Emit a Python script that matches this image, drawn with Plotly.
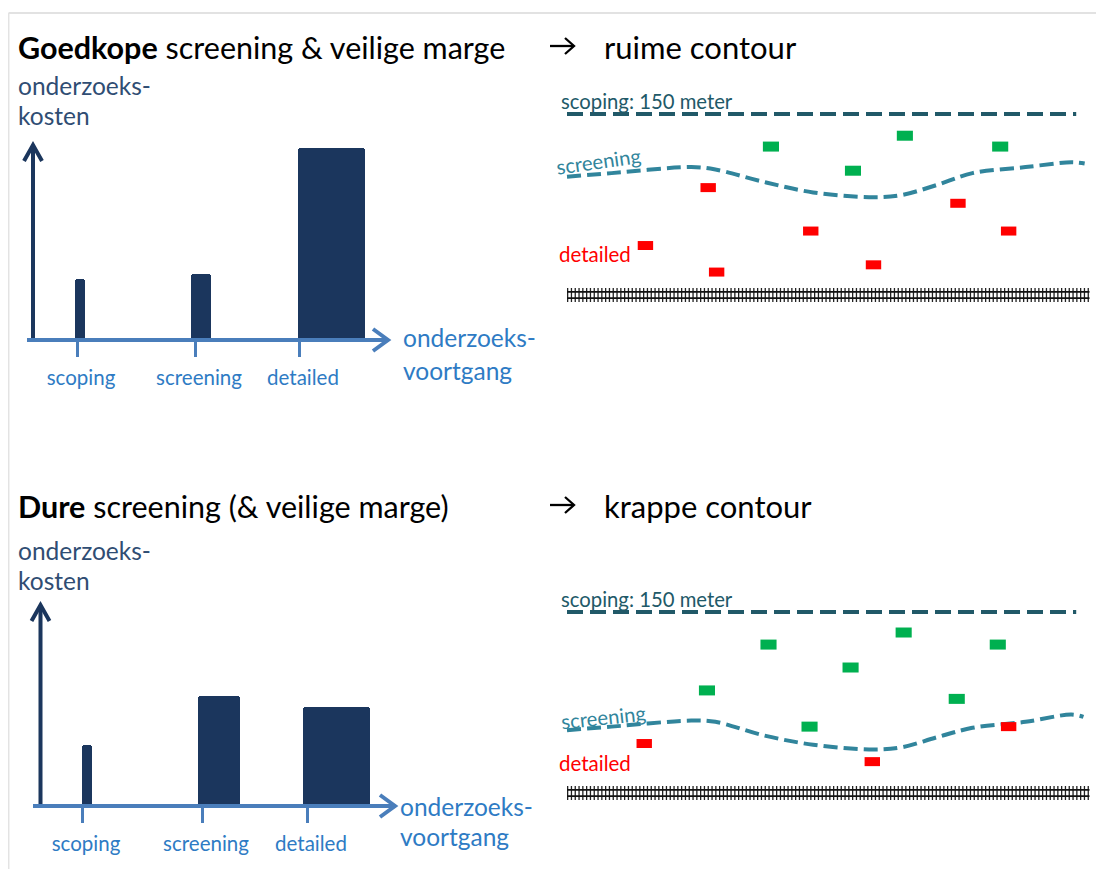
import plotly.graph_objects as go

# ---------------- data ----------------
stages = ["scoping", "screening", "detailed"]
cost_cheap = [61, 66, 192]        # Goedkope screening & veilige marge
cost_expensive = [61, 110, 99]    # Dure screening (& veilige marge)

# sample points (x along track in m, y distance from track in m)
top_green_x = [169, 280, 359, 237]
top_green_y = [123, 132, 123, 103]
top_red_x = [117, 324, 202, 366, 65, 124, 254]
top_red_y = [89, 76, 53, 53, 41, 19, 25]

bot_green_x = [167, 279, 357, 235, 116, 323, 201]
bot_green_y = [123, 133, 123, 104, 85, 78, 55]
bot_red_x = [64, 253, 366]
bot_red_y = [41, 26, 55]

# screening contour (x along track, distance in m)
top_screen_x = [0, 37, 103, 123, 162, 204, 255, 278, 306, 336, 380, 418, 429]
top_screen_y = [98, 101, 106, 104, 94, 85, 81, 83, 91, 101, 106, 110, 109]
bot_screen_x = [0, 37, 103, 123, 162, 204, 255, 278, 306, 336, 380, 418, 428]
bot_screen_y = [52, 55, 60, 59, 48, 40, 36, 38, 46, 54, 59, 65, 63]

scoping_distance = 150   # meter
track_length = 433
scoping_line_end = 422

# ---------------- styles ----------------
OFF = 8                      # page body margin
W, H = 1104 - OFF, 869 - OFF
NAVY = "#1b365d"
AXBLUE = "#4a7ebb"
LBLUE = "#2e7bc4"
YLAB = "#2f4d73"
TEAL_D = "#215968"
TEAL = "#31859c"
GREEN = "#00b050"
RED = "#ff0000"
FONT = "Lato, sans-serif"

def pxx(p):
    return (p - OFF) / W

def pxy(p):
    return 1 - (p - OFF) / H

fig = go.Figure()
shapes = []
annotations = []

bar_panels = [
    dict(ax="", box_y=(130, 400), base_px=340, vals=cost_cheap,
         ticks=[67, 185, 289], offs=[-2, -4, -1], widths=[10, 20, 67],
         yx=23, ytop=195, x0=17, x1=378),
    dict(ax="2", box_y=(585, 840), base_px=806, vals=cost_expensive,
         ticks=[72, 192, 297], offs=[0, -4, -4], widths=[10, 42, 67],
         yx=30.5, ytop=201, x0=23, x1=385),
]
BOX_X = (10, 420)

for p in bar_panels:
    xa = "x" + p["ax"]
    ya = "y" + p["ax"]
    fig.add_trace(go.Bar(
        x=p["ticks"], y=p["vals"], width=p["widths"], offset=p["offs"],
        marker=dict(color=NAVY, line=dict(width=0), cornerradius=3),
        xaxis=xa, yaxis=ya, showlegend=False, hoverinfo="skip"))
    shapes.append(dict(type="line", xref=xa, yref=ya, x0=p["yx"], x1=p["yx"],
                       y0=-2, y1=p["ytop"] - 1, line=dict(color=NAVY, width=4), layer="above"))
    shapes.append(dict(type="path", xref=xa, yref=ya,
                       path=f"M{p['yx']-9},{p['ytop']-16} L{p['yx']},{p['ytop']} L{p['yx']+9},{p['ytop']-16}",
                       line=dict(color=NAVY, width=4), layer="above"))
    shapes.append(dict(type="line", xref=xa, yref=ya, x0=p["x0"], x1=p["x1"] - 1,
                       y0=0, y1=0, line=dict(color=AXBLUE, width=4), layer="above"))
    shapes.append(dict(type="path", xref=xa, yref=ya,
                       path=f"M{p['x1']-15},11 L{p['x1']},0 L{p['x1']-15},-11",
                       line=dict(color=AXBLUE, width=4), layer="above"))
    b0, b1 = p["box_y"]
    fig.update_layout(**{
        "xaxis" + p["ax"]: dict(domain=[pxx(BOX_X[0]), pxx(BOX_X[1])], range=[0, BOX_X[1] - BOX_X[0]],
                                anchor="free", position=pxy(p["base_px"] + 1),
                                tickvals=p["ticks"], ticktext=stages, ticks="outside",
                                ticklen=15, tickwidth=3, tickcolor=AXBLUE,
                                tickfont=dict(family=FONT, size=20.5, color=LBLUE),
                                ticklabelstandoff=3, ticklabelshift=4,
                                showgrid=False, zeroline=False, showline=False, fixedrange=True),
        "yaxis" + p["ax"]: dict(domain=[pxy(b1), pxy(b0)],
                                range=[p["base_px"] - b1, p["base_px"] - b0],
                                anchor=xa, visible=False, fixedrange=True),
    })

# diagram panels
PX_PER_M = 181 / 150
DIAG_BOX_X = (545, 1100)
ORIGIN_X = 567
diag_panels = [
    dict(ax="3", box_y=(85, 320), track_px=295, gx=top_green_x, gy=top_green_y,
         rx=top_red_x, ry=top_red_y, sx=top_screen_x, sy=top_screen_y,
         lab=(598, 161, -8), det_px=254),
    dict(ax="4", box_y=(583, 818), track_px=793, gx=bot_green_x, gy=bot_green_y,
         rx=bot_red_x, ry=bot_red_y, sx=bot_screen_x, sy=bot_screen_y,
         lab=(603, 717, -6), det_px=763),
]
for d in diag_panels:
    xa = "x" + d["ax"]
    ya = "y" + d["ax"]
    b0, b1 = d["box_y"]
    tp = d["track_px"]
    fig.update_layout(**{
        "xaxis" + d["ax"]: dict(domain=[pxx(DIAG_BOX_X[0]), pxx(DIAG_BOX_X[1])],
                                range=[(DIAG_BOX_X[0] - ORIGIN_X) / PX_PER_M, (DIAG_BOX_X[1] - ORIGIN_X) / PX_PER_M],
                                anchor=ya, visible=False, fixedrange=True),
        "yaxis" + d["ax"]: dict(domain=[pxy(b1), pxy(b0)],
                                range=[(tp - b1) / PX_PER_M, (tp - b0) / PX_PER_M],
                                anchor=xa, visible=False, fixedrange=True),
    })
    fig.add_trace(go.Scatter(x=[0, scoping_line_end], y=[scoping_distance, scoping_distance], mode="lines",
                             line=dict(color=TEAL_D, width=4, dash="16px,7px"),
                             xaxis=xa, yaxis=ya, showlegend=False, hoverinfo="skip"))
    fig.add_trace(go.Scatter(x=d["sx"], y=d["sy"], mode="lines",
                             line=dict(color=TEAL, width=4, dash="14px,6px", shape="spline", smoothing=1.0),
                             xaxis=xa, yaxis=ya, showlegend=False, hoverinfo="skip"))
    fig.add_trace(go.Scatter(x=[0, track_length], y=[0, 0], mode="lines",
                             line=dict(color="#222222", width=14, dash="1.3px,2.5px"),
                             xaxis=xa, yaxis=ya, showlegend=False, hoverinfo="skip"))
    for ry in (2.6, -2.6):
        fig.add_trace(go.Scatter(x=[0, track_length], y=[ry, ry], mode="lines",
                                 line=dict(color="#111111", width=1.6),
                                 xaxis=xa, yaxis=ya, showlegend=False, hoverinfo="skip"))
    fig.add_trace(go.Scatter(x=d["gx"], y=d["gy"], mode="markers",
                             marker=dict(symbol="line-ew", size=11.5, line=dict(color=GREEN, width=10)),
                             xaxis=xa, yaxis=ya, showlegend=False, hoverinfo="skip"))
    fig.add_trace(go.Scatter(x=d["rx"], y=d["ry"], mode="markers",
                             marker=dict(symbol="line-ew", size=11, line=dict(color=RED, width=9)),
                             xaxis=xa, yaxis=ya, showlegend=False, hoverinfo="skip"))
    annotations.append(dict(xref=xa, yref=ya, x=(559 - ORIGIN_X) / PX_PER_M,
                            y=scoping_distance + 11, text="scoping: 150 meter", showarrow=False,
                            xanchor="left", yanchor="middle",
                            font=dict(family=FONT, size=20.3, color=TEAL_D)))
    lx, ly, la = d["lab"]
    annotations.append(dict(xref=xa, yref=ya, x=(lx - ORIGIN_X) / PX_PER_M,
                            y=(tp - ly) / PX_PER_M, text="screening", showarrow=False,
                            textangle=la, xanchor="center", yanchor="middle",
                            font=dict(family=FONT, size=20.3, color=TEAL)))
    annotations.append(dict(xref=xa, yref=ya, x=(557 - ORIGIN_X) / PX_PER_M,
                            y=(tp - d["det_px"]) / PX_PER_M, text="detailed", showarrow=False,
                            xanchor="left", yanchor="middle",
                            font=dict(family=FONT, size=20.5, color=RED)))

def txt(x, y, text, size, color, xanchor="left", family=FONT):
    annotations.append(dict(xref="paper", yref="paper", x=pxx(x), y=pxy(y), text=text,
                            showarrow=False, xanchor=xanchor, yanchor="middle",
                            font=dict(family=family, size=size, color=color)))

def right_arrow(y):
    # the "→" sign in the headings
    shapes.append(dict(type="line", xref="paper", yref="paper", x0=pxx(550), x1=pxx(573),
                       y0=pxy(y), y1=pxy(y), line=dict(color="#000000", width=2.3)))
    shapes.append(dict(type="path", xref="paper", yref="paper",
                       path=f"M{pxx(565)},{pxy(y - 8)} L{pxx(574)},{pxy(y)} L{pxx(565)},{pxy(y + 8)}",
                       line=dict(color="#000000", width=2.3)))

txt(16, 47, "<b>Goedkope</b> screening &amp; veilige marge", 30.5, "#000000")
right_arrow(46)
txt(602, 47, "ruime contour", 31, "#000000")
txt(16, 85, "onderzoeks-", 24.5, YLAB)
txt(16, 116, "kosten", 24.5, YLAB)
txt(401, 338, "onderzoeks-", 24.5, LBLUE)
txt(401, 370, "voortgang", 24.5, LBLUE)

txt(16, 506, "<b>Dure</b> screening (&amp; veilige marge)", 30.5, "#000000")
right_arrow(505)
txt(602, 506, "krappe contour", 31, "#000000")
txt(16, 550, "onderzoeks-", 24.5, YLAB)
txt(16, 580, "kosten", 24.5, YLAB)
txt(398, 806, "onderzoeks-", 24.5, LBLUE)
txt(398, 836, "voortgang", 24.5, LBLUE)

shapes.append(dict(type="line", xref="paper", yref="paper", x0=pxx(8.5), x1=1, y0=pxy(13), y1=pxy(13),
                   line=dict(color="#d9d9d9", width=1.5)))
shapes.append(dict(type="line", xref="paper", yref="paper", x0=pxx(8.7), x1=pxx(8.7), y0=0, y1=pxy(13),
                   line=dict(color="#e3e3e3", width=1.5)))

fig.update_layout(width=W, height=H, margin=dict(l=0, r=0, t=0, b=0),
                  paper_bgcolor="white", plot_bgcolor="rgba(0,0,0,0)",
                  shapes=shapes, annotations=annotations, bargap=0, showlegend=False,
                  font=dict(family=FONT))

fig.write_html("out.html", config={"displayModeBar": False})
